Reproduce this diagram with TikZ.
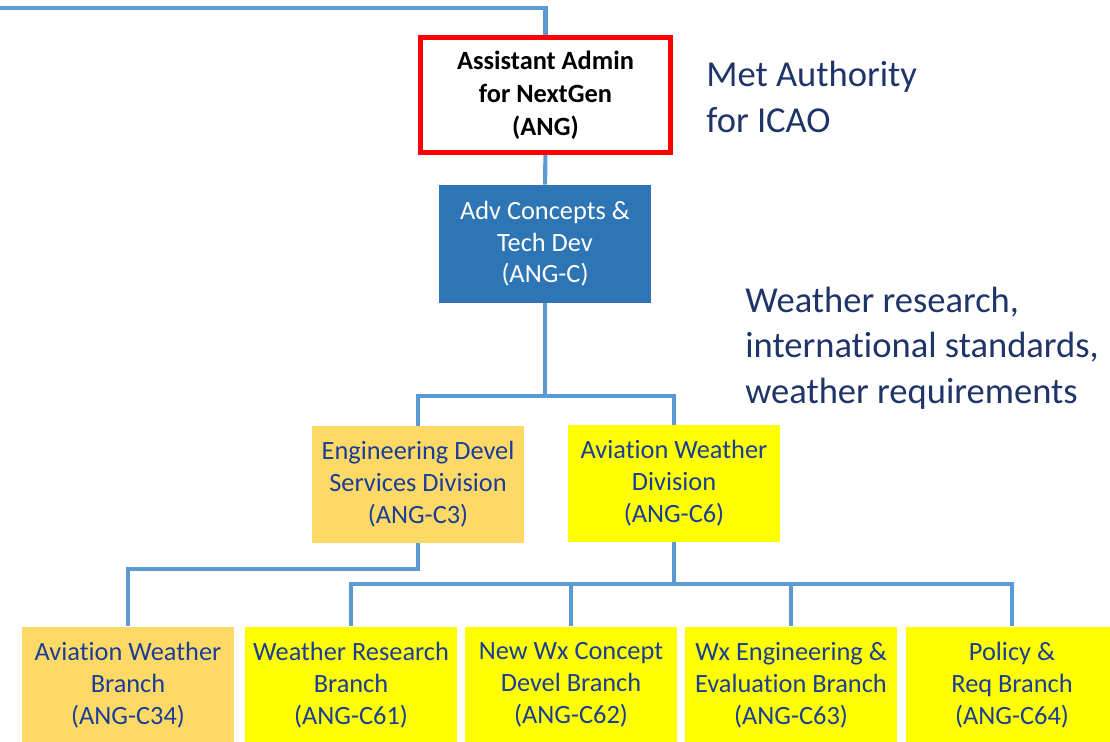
\documentclass[tikz,border=0pt]{standalone}
\usepackage{fontspec}
\setmainfont[Ligatures={NoCommon}]{Carlito}
\usetikzlibrary{positioning}
\definecolor{wireblue}{HTML}{5B9BD5}
\definecolor{boxblue}{HTML}{2E75B6}
\definecolor{boxorange}{HTML}{FFD966}
\definecolor{boxyellow}{HTML}{FFFF00}
\definecolor{txtblue}{HTML}{1A3D96}
\definecolor{navy}{HTML}{1F3468}

\begin{document}
\begin{tikzpicture}[x=0.02cm,y=-0.02cm,
  unitbox/.style={minimum width=4.24cm,minimum height=2.34cm,inner sep=0pt,align=center,
    text=txtblue,font=\fontsize{15}{18.3}\selectfont},
  divn/.style={unitbox,fill=boxyellow},
  engr/.style={unitbox,fill=boxorange},
  wire/.style={draw=wireblue,line width=2.3pt},
  note/.style={anchor=west,align=left,inner sep=0pt,text=navy,font=\fontsize{20.8}{26}\selectfont}]
  \useasboundingbox (0,0) rectangle (1110,742);

  % top of the chart
  \node[draw=red,line width=2.8pt,fill=white,minimum width=5cm,minimum height=2.3cm,inner sep=0pt,
    align=center,font=\bfseries\fontsize{15}{18.7}\selectfont] (ang) at (545.5,95)
    {Assistant Admin\\for NextGen\\(ANG)};
  \node[fill=boxblue,minimum width=4.24cm,minimum height=2.36cm,inner sep=0pt,align=center,
    text=white,font=\fontsize{15}{18}\selectfont] (angc) at (545,244)
    {Adv Concepts \&\\Tech Dev\\(ANG-C)};
  \node[note] (met) at (706,97) {Met Authority\\for ICAO};
  \node[note] (wxnote) at (745,348) {Weather research,\\international standards,\\weather requirements};

  % divisions
  \node[engr] (c3) at (418,484.5) {Engineering Devel\\Services Division\\(ANG-C3)};
  \node[divn] (c6) at (674,483.5) {Aviation Weather\\Division\\(ANG-C6)};

  % branches
  \node[engr] (c34) at (128,685) {Aviation Weather\\Branch\\(ANG-C34)};
  \node[divn] (c61) at (351,685) {Weather Research\\Branch\\(ANG-C61)};
  \node[divn] (c62) at (571,685) {New Wx Concept\\Devel Branch\\(ANG-C62)};
  \node[divn] (c63) at (791,685) {Wx Engineering \&\\Evaluation Branch\\(ANG-C63)};
  \node[divn] (c64) at (1012,685) {Policy \&\\Req Branch\\(ANG-C64)};

  \coordinate (up) at (0,8);
  \coordinate (j1) at (545,396);
  \coordinate (j2) at (418,569);
  \coordinate (j3) at (674,584);

  % connectors
  \draw[wire] (up) -| (ang.north);
  \draw[wire] (ang) -- (angc);
  \draw[wire] (angc.south) -- (j1);
  \draw[wire] (c3.north) |- (j1) -| (c6.north);
  \draw[wire] (c3.south) -- (j2) -| (c34.north);
  \draw[wire] (c6.south) -- (j3);
  \draw[wire] (c61.north) |- (j3) -| (c64.north);
  \draw[wire] (j3) -| (c62.north);
  \draw[wire] (j3) -| (c63.north);
\end{tikzpicture}
\end{document}
